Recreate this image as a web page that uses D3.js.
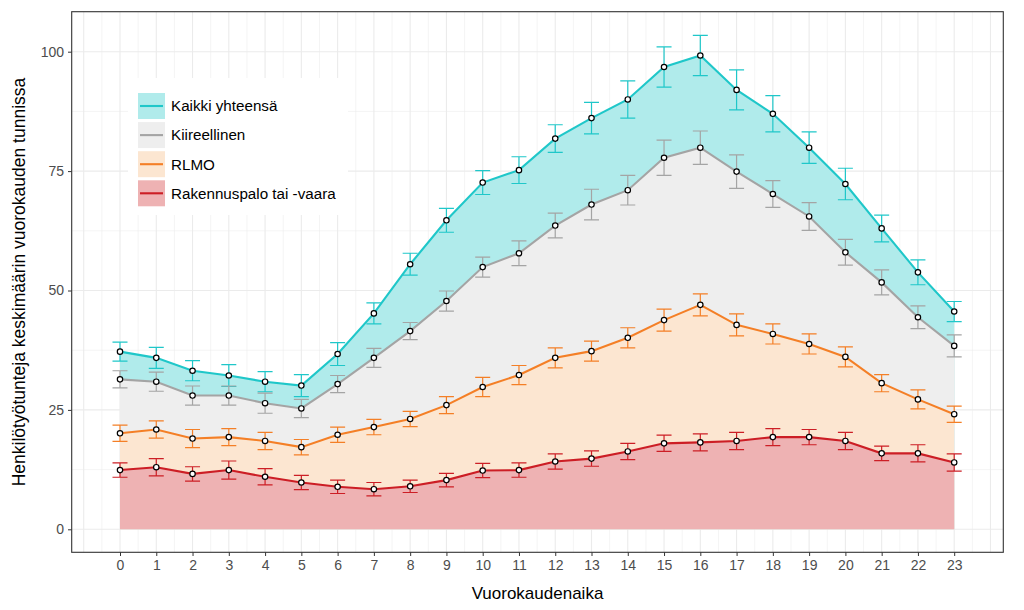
<!DOCTYPE html>
<html><head><meta charset="utf-8">
<script src="https://cdn.jsdelivr.net/npm/d3@7"></script>
<style>body{margin:0;background:#fff}svg{display:block;font-family:"Liberation Sans",Arial,sans-serif}</style>
</head><body><svg id="c" width="1024" height="610"></svg>
<script>
const hours = d3.range(0, 24);
const xTickLabels = hours.map(String);
const yTicks = [0, 25, 50, 75, 100];
const seriesNames = ["Kaikki yhteensä", "Kiireellinen", "RLMO", "Rakennuspalo tai -vaara"];
const total = [37.2,35.9,33.2,32.2,30.9,30.1,36.7,45.2,55.5,64.7,72.6,75.2,81.8,86.1,90.0,96.8,99.2,92.0,87.0,79.9,72.3,63.0,53.8,45.6];
const totalErr = [2.0,2.2,2.1,2.3,2.1,2.3,2.4,2.2,2.3,2.5,2.5,2.8,2.9,3.3,3.9,4.2,4.2,4.2,3.8,3.3,3.3,2.8,2.6,2.1];
const kiire = [31.4,30.9,28.0,28.0,26.4,25.3,30.4,35.9,41.5,47.8,54.9,57.8,63.6,68.0,71.0,77.8,79.9,74.9,70.2,65.5,58.0,51.7,44.4,38.4];
const kiireErr = [1.8,2.0,2.0,2.0,2.1,1.9,1.8,2.0,1.8,2.1,2.1,2.6,2.6,3.2,3.1,3.7,3.5,3.5,2.8,2.9,2.7,2.6,2.4,2.3];
const rlmo = [20.1,20.9,19.0,19.3,18.5,17.2,19.8,21.4,23.1,26.0,29.8,32.3,35.9,37.3,40.1,43.8,47.0,42.8,40.9,38.8,36.1,30.6,27.2,24.1];
const rlmoErr = [1.7,1.8,1.9,1.8,1.8,1.6,1.6,1.6,1.6,1.8,2.0,2.0,2.1,2.1,2.1,2.3,2.3,2.3,2.1,2.1,2.1,1.8,2.0,1.7];
const rakennus = [12.4,13.0,11.6,12.4,11.0,9.8,8.9,8.4,9.0,10.3,12.3,12.4,14.2,14.8,16.3,18.0,18.2,18.5,19.3,19.3,18.5,15.9,15.9,14.0];
const rakennusErr = [1.5,1.8,1.5,1.9,1.7,1.5,1.4,1.4,1.3,1.4,1.5,1.5,1.6,1.6,1.7,1.7,1.8,1.8,1.8,1.6,1.8,1.5,1.8,1.8];
const lineColors = ["#1fc7c9", "#a4a4a4", "#f47f26", "#cc1e25"];
const fillColors = ["#b0ebeb", "#eeeeee", "#fce6d1", "#eeb2b3"];

const series = [
  {name: seriesNames[0], v: total, e: totalErr},
  {name: seriesNames[1], v: kiire, e: kiireErr},
  {name: seriesNames[2], v: rlmo, e: rlmoErr},
  {name: seriesNames[3], v: rakennus, e: rakennusErr}
];

const svg = d3.select("#c");
const L = 71.7, R = 1003.3, T = 11.7, B = 552.3;
const x = d3.scaleLinear().domain([0, 23]).range([120, 954.2]);
const y = d3.scaleLinear().domain([0, 100]).range([529.3, 51.7]);
const xMin = x.invert(L), xMax = x.invert(R), yMax = y.invert(T);

// grid
const g = svg.append("g");
const vMinor = d3.range(Math.ceil(xMin*2)/2, xMax, 0.5);
g.selectAll(".vg").data(vMinor).join("line")
  .attr("x1", d => x(d)).attr("x2", d => x(d)).attr("y1", T).attr("y2", B)
  .attr("stroke", "#ebebeb").attr("stroke-width", d => Number.isInteger(d) ? 1.1 : 0.55);
const hLines = d3.range(0, yMax, 12.5);
g.selectAll(".hg").data(hLines).join("line")
  .attr("x1", L).attr("x2", R).attr("y1", d => y(d)).attr("y2", d => y(d))
  .attr("stroke", "#ebebeb").attr("stroke-width", d => d % 25 === 0 ? 1.1 : 0.55);

// areas
const area = d3.area().x((d, i) => x(hours[i])).y0(y(0)).y1(d => y(d));
series.forEach((s, k) => {
  svg.append("path").datum(s.v).attr("d", area).attr("fill", fillColors[k]);
});

// lines, error bars, points
const line = d3.line().x((d, i) => x(hours[i])).y(d => y(d));
series.slice().reverse().forEach((s, rk) => {
  const k = 3 - rk;
  svg.append("path").datum(s.v).attr("d", line).attr("fill", "none")
    .attr("stroke", lineColors[k]).attr("stroke-width", 2.1);
});
series.forEach((s, k) => {
  const eg = svg.append("g").attr("stroke", lineColors[k]).attr("stroke-width", 1.2).attr("fill", "none");
  const cw = 7.5;
  s.v.forEach((v, i) => {
    const xx = x(hours[i]), lo = y(v - s.e[i]), hi = y(v + s.e[i]);
    eg.append("path").attr("d", `M${xx - cw},${hi}H${xx + cw}M${xx},${hi}V${lo}M${xx - cw},${lo}H${xx + cw}`);
  });
});
series.forEach((s, k) => {
  svg.append("g").selectAll("circle").data(s.v).join("circle")
    .attr("cx", (d, i) => x(hours[i])).attr("cy", d => y(d)).attr("r", 2.7)
    .attr("fill", "#fff").attr("stroke", "#000").attr("stroke-width", 1.2);
});

// panel border
svg.append("rect").attr("x", L).attr("y", T).attr("width", R - L).attr("height", B - T)
  .attr("fill", "none").attr("stroke", "#333").attr("stroke-width", 1.1);

// axes
const xAxis = d3.axisBottom(x).tickValues(hours).tickFormat((d, i) => xTickLabels[i]).tickSize(3.7).tickPadding(4);
const xa = svg.append("g").attr("transform", `translate(0,${B})`).call(xAxis);
xa.select(".domain").remove();
xa.selectAll("line").attr("stroke", "#333");
xa.selectAll("text").attr("fill", "#4d4d4d").attr("font-size", 14).attr("font-family", "Liberation Sans, Arial, sans-serif");
const yAxis = d3.axisLeft(y).tickValues(yTicks).tickSize(3.7).tickPadding(4);
const ya = svg.append("g").attr("transform", `translate(${L},0)`).call(yAxis);
ya.select(".domain").remove();
ya.selectAll("line").attr("stroke", "#333");
ya.selectAll("text").attr("fill", "#4d4d4d").attr("font-size", 14).attr("font-family", "Liberation Sans, Arial, sans-serif");

svg.append("text").attr("x", (L + R) / 2).attr("y", 599).attr("text-anchor", "middle")
  .attr("font-size", 17).attr("fill", "#000").text("Vuorokaudenaika");
svg.append("text").attr("transform", `translate(25,${(T + B) / 2}) rotate(-90)`).attr("text-anchor", "middle")
  .attr("font-size", 17.5).attr("fill", "#000").text("Henkilötyötunteja keskimäärin vuorokauden tunnissa");

// legend
const lg = svg.append("g");
lg.append("rect").attr("x", 128).attr("y", 78).attr("width", 220).attr("height", 137).attr("fill", "#fff");
series.forEach((s, k) => {
  const ky = 93 + k * 29.1;
  lg.append("rect").attr("x", 138).attr("y", ky).attr("width", 27).attr("height", 26).attr("fill", fillColors[k]);
  lg.append("line").attr("x1", 140).attr("x2", 163).attr("y1", ky + 13).attr("y2", ky + 13)
    .attr("stroke", lineColors[k]).attr("stroke-width", 2.1);
  lg.append("text").attr("x", 171).attr("y", ky + 13).attr("dy", "0.35em")
    .attr("font-size", 15.2).attr("fill", "#000").text(s.name);
});
</script></body></html>
